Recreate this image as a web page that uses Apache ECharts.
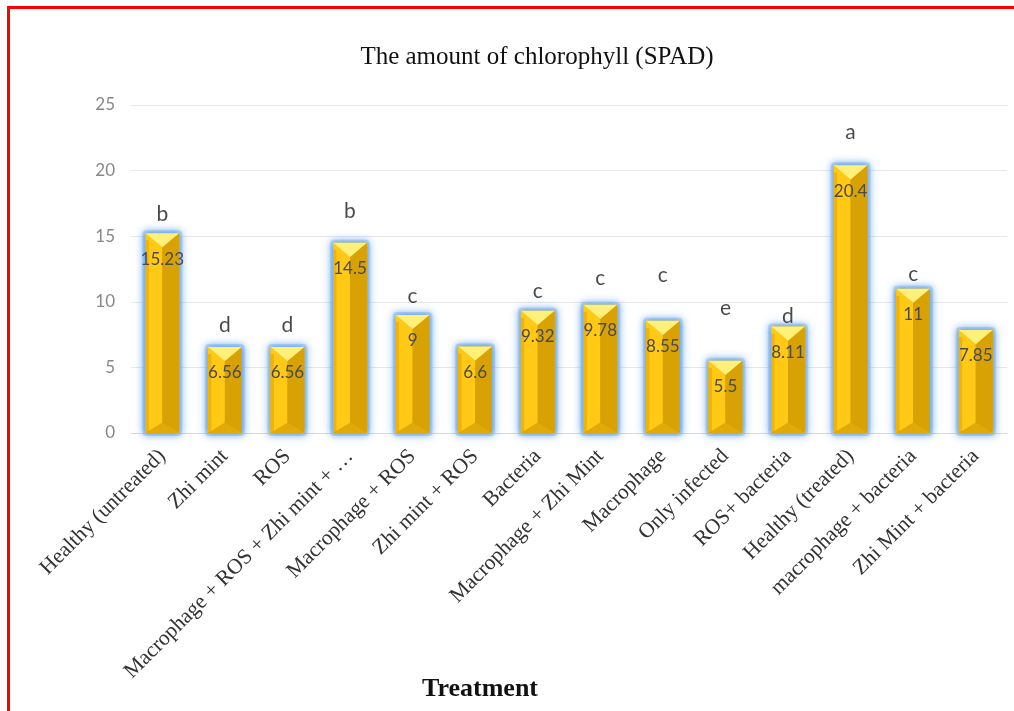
<!DOCTYPE html>
<html>
<head>
<meta charset="utf-8">
<title>The amount of chlorophyll (SPAD)</title>
<script src="https://cdn.jsdelivr.net/npm/echarts@6/dist/echarts.min.js"></script>
<style>
    html, body { margin: 0; padding: 0; background: #fff; }
    #main { width: 1014px; height: 711px; }
</style>
</head>
<body>
<div id="main"></div>
<script>
// 数据
var categories = ['Healthy (untreated)', 'Zhi mint', 'ROS', 'Macrophage + ROS + Zhi mint + …',
    'Macrophage + ROS', 'Zhi mint + ROS', 'Bacteria', 'Macrophage + Zhi Mint', 'Macrophage',
    'Only infected', 'ROS+ bacteria', 'Healthy (treated)', 'macrophage + bacteria', 'Zhi Mint + bacteria'];
var chlorophyll = [15.23, 6.56, 6.56, 14.5, 9, 6.6, 9.32, 9.78, 8.55, 5.5, 8.11, 20.4, 11, 7.85];
// significance letters and the height (SPAD units) they sit at
var groupLetters = ['b', 'd', 'd', 'b', 'c', '', 'c', 'c', 'c', 'e', 'd', 'a', 'c', ''];
var letterHeights = [16.7, 8.2, 8.2, 16.9, 10.4, null, 10.8, 11.8, 12.0, 9.5, 8.9, 22.9, 12.1, null];
var yMin = 0, yMax = 25, yStep = 5;

(function(){
    var myChart = echarts.init(document.getElementById('main'));

    // 金色棱锥柱 + 蓝色外发光
    function renderBar(params, api) {
        var idx = api.value(0);
        var val = api.value(1);
        var top = api.coord([idx, val]);
        var base = api.coord([idx, 0]);
        var w = api.size([1, 0])[0] * 0.54;
        var xc = top[0], yt = top[1], yb = base[1];
        var x0 = xc - w / 2, x1 = xc + w / 2;
        var d = w * 0.42;
        var db = w * 0.3;
        return {
            type: 'group',
            children: [
                // glow
                {
                    type: 'rect',
                    shape: { x: x0 - 3, y: yt - 3, width: w + 6, height: yb - yt + 6, r: 4 },
                    style: {
                        fill: 'rgba(150,195,240,0.55)',
                        shadowBlur: 9,
                        shadowColor: 'rgba(80,150,230,0.9)'
                    }
                },
                {
                    type: 'rect',
                    shape: { x: x0, y: yt, width: w, height: yb - yt },
                    style: { fill: '#e8b000', shadowBlur: 6, shadowColor: 'rgba(80,150,230,1)' }
                },
                {
                    type: 'polygon',
                    shape: { points: [[x0, yt], [xc, yt + d], [xc, yb - db], [x0, yb]] },
                    style: { fill: '#ffc916' }
                },
                {
                    type: 'polygon',
                    shape: { points: [[x1, yt], [xc, yt + d], [xc, yb - db], [x1, yb]] },
                    style: { fill: '#d8a204' }
                },
                {
                    type: 'polygon',
                    shape: { points: [[x0, yt], [x1, yt], [xc, yt + d]] },
                    style: { fill: '#fff07a' }
                },
                {
                    type: 'polygon',
                    shape: { points: [[x0, yb], [x1, yb], [xc, yb - db]] },
                    style: { fill: '#e0ab0a' }
                },
                {
                    type: 'rect',
                    shape: { x: x0, y: yt + d * 0.5, width: w * 0.1, height: yb - yt - d * 0.5 },
                    style: { fill: 'rgba(225,160,0,0.55)' }
                },
                {
                    type: 'text',
                    style: {
                        text: String(val),
                        x: xc, y: yt + 26,
                        align: 'center', verticalAlign: 'middle',
                        fill: '#4a4a4a',
                        font: '17px Lato'
                    }
                }
            ]
        };
    }

    var option = {
        animation: false,
        backgroundColor: '#fff',
        graphic: [
            {
                type: 'polyline',
                shape: { points: [[8.5, 711], [8.5, 7.5], [1014, 7.5]] },
                style: { stroke: '#ff0000', lineWidth: 3, fill: null }
            },
            {
                type: 'text',
                style: {
                    text: 'The amount of chlorophyll (SPAD)',
                    x: 537, y: 57, align: 'center', verticalAlign: 'middle',
                    fill: '#111', font: '25px "Liberation Serif"'
                }
            },
            {
                type: 'text',
                style: {
                    text: 'Treatment',
                    x: 480, y: 689, align: 'center', verticalAlign: 'middle',
                    fill: '#111', font: 'bold 26px "Liberation Serif"'
                }
            }
        ],
        grid: {
            left: 131,
            right: 7,
            top: 105,
            bottom: 278
        },
        xAxis: {
            type: 'category',
            data: categories,
            axisLine: { lineStyle: { color: '#d9d9d9' } },
            axisTick: { show: false },
            axisLabel: {
                interval: 0,
                rotate: 45,
                margin: 20,
                color: '#333',
                fontFamily: 'Liberation Serif',
                fontSize: 21.5
            },
            splitLine: { show: false }
        },
        yAxis: {
            type: 'value',
            min: yMin,
            max: yMax,
            interval: yStep,
            axisLine: { show: false },
            axisTick: { show: false },
            axisLabel: {
                margin: 16,
                color: '#888',
                fontFamily: 'Lato',
                fontSize: 17
            },
            splitLine: { lineStyle: { color: '#e8e8e8' } }
        },
        series: [
            {
                type: 'custom',
                renderItem: renderBar,
                encode: { x: 0, y: 1 },
                data: chlorophyll.map(function(v, i){ return [i, v]; }),
                z: 2
            },
            {
                type: 'scatter',
                symbolSize: 0,
                data: letterHeights.map(function(h, i){ return [i, h]; }),
                label: {
                    show: true,
                    position: 'inside',
                    formatter: function(p){ return groupLetters[p.dataIndex]; },
                    color: '#1a1a1a',
                    fontFamily: 'Lato',
                    fontSize: 21
                },
                z: 3
            }
        ]
    };

    myChart.setOption(option);
})();
</script>
</body>
</html>
